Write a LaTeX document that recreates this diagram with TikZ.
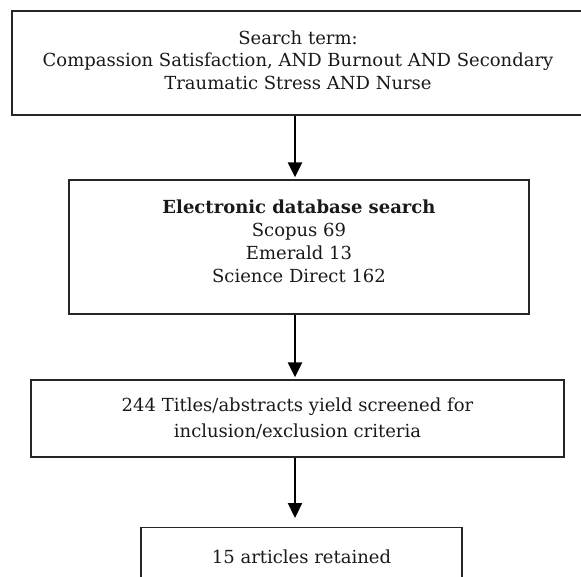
\documentclass[tikz,border=0pt]{standalone}
\usepackage{fontspec}
\setmainfont{DejaVu Serif}
\usetikzlibrary{arrows.meta}
\tikzset{
	flowbox/.style={draw=black!85, line width=1.3pt, align=center, text=black!90, inner sep=0pt, font=\fontsize{18}{22.8}\selectfont},
	flowarrow/.style={line width=2.3pt, -{Triangle[width=14pt,length=15pt]}}
}
\begin{document}
\begin{tikzpicture}[x=1pt, y=-1pt]
			\useasboundingbox (0,0) rectangle (581,577);
			%boxes
			\node[flowbox, minimum width=572pt, minimum height=104pt] (search) at (298, 63) {Search term:\\Compassion Satisfaction, AND Burnout AND Secondary\\Traumatic Stress AND Nurse\\[-17pt]};
			\node[flowbox, minimum width=460pt, minimum height=134pt] (database) at (299, 247) {\textbf{Electronic database search}\\Scopus 69\\Emerald 13\\Science Direct 162\\[-11pt]};
			\node[flowbox, minimum width=533pt, minimum height=77pt] (screened) at (297.5, 418.5) {244 Titles/abstracts yield screened for\\[3pt]inclusion/exclusion criteria};
			\node[flowbox, minimum width=321pt, text height=36pt, text depth=40pt, anchor=north] (retained) at (301.5, 527) {15 articles retained};
			
			%arrows
			\coordinate (arrx) at (295, 0);
			\draw[flowarrow] (search.south -| arrx) -- ([yshift=2pt]database.north -| arrx);
			\draw[flowarrow] (database.south -| arrx) -- ([yshift=2pt]screened.north -| arrx);
			\draw[flowarrow] (screened.south -| arrx) -- ([yshift=9pt]retained.north -| arrx);
		\end{tikzpicture}
\end{document}
